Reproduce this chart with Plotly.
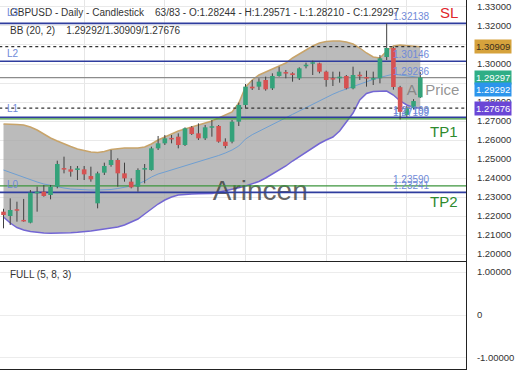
import plotly.graph_objects as go

# ---------------- data ----------------
opens = [1.22228, 1.22000, 1.22351, 1.21789, 1.21649, 1.23193, 1.23281, 1.23105, 1.23544, 1.24509,
         1.24456, 1.24421, 1.24456, 1.24105, 1.22667, 1.24281, 1.24684, 1.24947, 1.24246, 1.23807,
         1.23544, 1.24456, 1.24421, 1.25561, 1.25825, 1.26088, 1.26175, 1.25737, 1.26667, 1.26351,
         1.26088, 1.26667, 1.26737, 1.25912, 1.25912, 1.26965, 1.27842, 1.28807, 1.28807, 1.29158,
         1.28719, 1.29368, 1.29561, 1.29509, 1.29246, 1.29895, 1.30035, 1.30035, 1.29596, 1.29246,
         1.29246, 1.29368, 1.28719, 1.29421, 1.29298, 1.29193, 1.29246, 1.30368, 1.30840, 1.28780,
         1.27320, 1.27700, 1.28244]
highs = [1.22380, 1.22930, 1.22754, 1.22900, 1.23368, 1.23544, 1.23632, 1.23632, 1.24912, 1.25123,
         1.24632, 1.24632, 1.24632, 1.24596, 1.24333, 1.24807, 1.25474, 1.25035, 1.24807, 1.23982,
         1.24509, 1.24737, 1.25649, 1.26211, 1.26263, 1.26263, 1.26351, 1.26667, 1.26737, 1.26877,
         1.26789, 1.27053, 1.26789, 1.26088, 1.27053, 1.27965, 1.28947, 1.29158, 1.29246, 1.29333,
         1.29509, 1.29860, 1.29684, 1.29561, 1.29825, 1.30070, 1.30175, 1.30070, 1.29649, 1.29596,
         1.29596, 1.29421, 1.29860, 1.29596, 1.29649, 1.29596, 1.30474, 1.32138, 1.30910, 1.28850,
         1.27800, 1.28150, 1.29571]
lows = [1.21351, 1.21526, 1.21702, 1.21700, 1.21614, 1.22228, 1.23018, 1.22877, 1.23456, 1.24246,
        1.24070, 1.23895, 1.23895, 1.23807, 1.22404, 1.24158, 1.24596, 1.23544, 1.23807, 1.23456,
        1.23281, 1.23719, 1.24386, 1.25474, 1.25737, 1.25825, 1.25561, 1.25684, 1.26263, 1.26000,
        1.26000, 1.26175, 1.25860, 1.25561, 1.25825, 1.26737, 1.27667, 1.28632, 1.28632, 1.28596,
        1.28632, 1.29333, 1.29246, 1.29070, 1.29158, 1.29772, 1.29421, 1.29509, 1.28807, 1.28842,
        1.29018, 1.28667, 1.28667, 1.29158, 1.28807, 1.28895, 1.28982, 1.30210, 1.28650, 1.27080,
        1.27220, 1.27600, 1.28210]
closes = [1.22053, 1.22316, 1.22281, 1.21719, 1.23228, 1.23281, 1.23053, 1.23544, 1.24737, 1.24456,
          1.24333, 1.24509, 1.24193, 1.23930, 1.24246, 1.24632, 1.24947, 1.24246, 1.23982, 1.23509,
          1.24421, 1.24509, 1.25561, 1.25825, 1.26088, 1.26053, 1.25737, 1.26614, 1.26316, 1.26088,
          1.26667, 1.26702, 1.25912, 1.25684, 1.26965, 1.27842, 1.28807, 1.28719, 1.29070, 1.28667,
          1.29368, 1.29596, 1.29509, 1.29421, 1.29772, 1.29947, 1.30070, 1.29596, 1.29158, 1.29193,
          1.29333, 1.28719, 1.29421, 1.29368, 1.29246, 1.29246, 1.30298, 1.30842, 1.28790, 1.27480,
          1.27680, 1.28050, 1.29297]

bb_upper = [1.26842, 1.26842, 1.26816, 1.26789, 1.26684, 1.26526, 1.26316, 1.26105, 1.25947, 1.25789,
            1.25658, 1.25526, 1.25447, 1.25368, 1.25342, 1.25395, 1.25500, 1.25553, 1.25579, 1.25579,
            1.25579, 1.25632, 1.25789, 1.26000, 1.26158, 1.26316, 1.26474, 1.26579, 1.26684, 1.26789,
            1.26895, 1.27000, 1.27158, 1.27316, 1.27474, 1.27947, 1.28789, 1.29158, 1.29421, 1.29579,
            1.29737, 1.29895, 1.30053, 1.30316, 1.30526, 1.30737, 1.30947, 1.31105, 1.31184, 1.31211,
            1.31211, 1.31158, 1.31053, 1.30842, 1.30579, 1.30368, 1.30316, 1.30684, 1.30947, 1.31000,
            1.30974, 1.30921, 1.30909]
bb_mid = [1.24421, 1.24289, 1.24158, 1.24026, 1.23895, 1.23789, 1.23684, 1.23605, 1.23526, 1.23474,
          1.23421, 1.23395, 1.23368, 1.23368, 1.23368, 1.23368, 1.23395, 1.23447, 1.23500, 1.23579,
          1.23684, 1.23842, 1.24053, 1.24211, 1.24316, 1.24421, 1.24526, 1.24632, 1.24737, 1.24842,
          1.24947, 1.25053, 1.25184, 1.25316, 1.25474, 1.25684, 1.26050, 1.26280, 1.26450, 1.26620,
          1.26810, 1.27000, 1.27170, 1.27350, 1.27530, 1.27730, 1.27910, 1.28090, 1.28260, 1.28410,
          1.28560, 1.28690, 1.28820, 1.28970, 1.29090, 1.29190, 1.29290, 1.29380, 1.29470, 1.29420,
          1.29370, 1.29320, 1.29292]
bb_lower = [1.21947, 1.21632, 1.21395, 1.21263, 1.21184, 1.21132, 1.21105, 1.21089, 1.21089, 1.21105,
            1.21121, 1.21142, 1.21168, 1.21211, 1.21263, 1.21316, 1.21353, 1.21421, 1.21526, 1.21684,
            1.21842, 1.22105, 1.22368, 1.22632, 1.22842, 1.23000, 1.23105, 1.23142, 1.23158, 1.23168,
            1.23179, 1.23189, 1.23247, 1.23316, 1.23395, 1.23484, 1.23579, 1.23684, 1.23816, 1.24000,
            1.24211, 1.24421, 1.24632, 1.24895, 1.25132, 1.25368, 1.25605, 1.25816, 1.26000, 1.26158,
            1.26474, 1.26947, 1.27421, 1.28105, 1.28447, 1.28553, 1.28579, 1.28579, 1.28368, 1.28053,
            1.27842, 1.27711, 1.27676]

levels_blue = [1.32138, 1.30146, 1.27199, 1.23241]
levels_green = [1.27109, 1.23590]
levels_gray = [1.29286]
levels_dashed = [1.30909, 1.27676]
level_labels = [1.32138, 1.30146, 1.29286, 1.27199, 1.27109, 1.23590, 1.23241]

price_ticks = [1.20, 1.21, 1.22, 1.23, 1.24, 1.25, 1.26, 1.27, 1.28, 1.29, 1.30, 1.31, 1.32, 1.33]
hidden_ticks = [1.29, 1.31]          # covered by the price tags in the reference
osc_ticks = [1, 0, -1]
osc_ticktext = ["1.00000", "0", "-1.00000"]

title_line1 = ("GBPUSD - Daily - Candlestick\u00a0\u00a0\u00a0\u00a063/83 - O:1.28244 - H:1.29571"
               " - L:1.28210 - C:1.29297")
title_line2 = "BB (20, 2)\u00a0\u00a0\u00a0\u00a01.29292/1.30909/1.27676"
osc_title = "FULL (5, 8, 3)"

# price tags on the axis: (value, background, text colour, pixel shift)
axis_tags = [(1.30909, "#d6a23c", "#3a3020", 0),
             (1.29297, "#2fae86", "#ffffff", 0),
             (1.29292, "#2c95ec", "#ffffff", -12),
             (1.27676, "#6a46d6", "#ffffff", 0)]

# ---------------- layout constants ----------------
X0, X1 = -0.52, 68.8
Y0, Y1 = 1.19632, 1.33368
W, H = 520, 390
ML, MR, MT, MB = 0, 54, 0, 21
PW, PH = W - ML - MR, H - MT - MB
split = (PH - 261) / PH
FONT = "Liberation Sans, Arial, sans-serif"
GREEN = "#34a27a"
RED = "#d65252"

n = len(closes)
idx = list(range(n))

fig = go.Figure()

# Bollinger bands
fig.add_trace(go.Scatter(x=idx, y=bb_upper, mode="lines",
                         line=dict(color="#c8a46a", width=1.5), hoverinfo="skip"))
fig.add_trace(go.Scatter(x=idx, y=bb_lower, mode="lines", fill="tonexty",
                         fillcolor="rgba(168,168,168,0.78)",
                         line=dict(color="#7366d4", width=1.5), hoverinfo="skip"))
fig.add_trace(go.Scatter(x=idx, y=bb_mid, mode="lines",
                         line=dict(color="#6f9fd2", width=1), hoverinfo="skip"))

# watermark behind the candles
fig.add_trace(go.Scatter(x=[63.9], y=[1.28579], mode="text", text=["AI Price"],
                         textfont=dict(family=FONT, size=15, color="rgba(120,120,120,0.8)"),
                         hoverinfo="skip"))
fig.add_trace(go.Scatter(x=[38.2], y=[1.23200], mode="text", text=["Arincen"],
                         textfont=dict(family=FONT, size=28, color="rgba(60,60,60,0.8)"),
                         hoverinfo="skip"))

# level lines
def hline(vals, color, width, dash="solid"):
    for v in vals:
        fig.add_trace(go.Scatter(x=[X0 - 1, X1 + 1], y=[v, v], mode="lines",
                                 line=dict(color=color, width=width, dash=dash),
                                 hoverinfo="skip"))

hline(levels_gray, "#8c8c8c", 1.2)
hline(levels_green, "#3d953d", 1.2)
hline(levels_blue, "#2f3d9e", 1.6)
hline(levels_dashed, "#333333", 1.3, "3px,3px")

# candles: wicks
wx, wy = [], []
for i in idx:
    wx += [i, i, None]
    wy += [lows[i], highs[i], None]
fig.add_trace(go.Scatter(x=wx, y=wy, mode="lines", line=dict(color="#404040", width=1),
                         hoverinfo="skip"))

# candles: bodies
MINB = 0.0008
for col, up in ((GREEN, True), (RED, False)):
    bx, by = [], []
    for i in idx:
        if (closes[i] >= opens[i]) == up:
            lo, hi = min(opens[i], closes[i]), max(opens[i], closes[i])
            if hi - lo < MINB:
                m = (hi + lo) / 2
                lo, hi = m - MINB / 2, m + MINB / 2
            bx += [i, i, None]
            by += [lo, hi, None]
    fig.add_trace(go.Scatter(x=bx, y=by, mode="lines", line=dict(color=col, width=4.6),
                             hoverinfo="skip"))

# empty oscillator panel
fig.add_trace(go.Scatter(x=[], y=[], xaxis="x2", yaxis="y2", mode="lines"))

# ---------------- annotations ----------------
ann = []
def px_x(px):
    return px / PW
def px_y(py):
    return 1 - py / PH

ann.append(dict(xref="paper", yref="paper", x=px_x(8), y=px_y(13), text=title_line1,
                showarrow=False, xanchor="left", yanchor="middle",
                font=dict(family=FONT, size=10, color="#333333")))
ann.append(dict(xref="paper", yref="paper", x=px_x(8), y=px_y(30), text=title_line2,
                showarrow=False, xanchor="left", yanchor="middle",
                font=dict(family=FONT, size=10, color="#333333")))
ann.append(dict(xref="paper", yref="paper", x=px_x(8), y=px_y(274), text=osc_title,
                showarrow=False, xanchor="left", yanchor="middle",
                font=dict(family=FONT, size=10, color="#333333")))

for txt, py in (("L3", 13), ("L2", 53), ("L1", 109), ("L0", 184.5)):
    ann.append(dict(xref="paper", yref="paper", x=px_x(5), y=px_y(py), text=txt,
                    showarrow=False, xanchor="left", yanchor="middle",
                    font=dict(family=FONT, size=10, color="#6f8ad8")))

for v in level_labels:
    ann.append(dict(xref="paper", yref="y", x=px_x(391), y=v, text=f"{v:.5f}",
                    showarrow=False, xanchor="left", yanchor="bottom", yshift=-1,
                    font=dict(family=FONT, size=10, color="#6f8ad8")))

ann.append(dict(xref="paper", yref="paper", x=px_x(460), y=px_y(12.5), text="SL",
                showarrow=False, xanchor="right", yanchor="middle",
                font=dict(family=FONT, size=15, color="#e0262b")))
ann.append(dict(xref="paper", yref="paper", x=px_x(460), y=px_y(132), text="TP1",
                showarrow=False, xanchor="right", yanchor="middle",
                font=dict(family=FONT, size=15, color="#2d8a2d")))
ann.append(dict(xref="paper", yref="paper", x=px_x(460), y=px_y(201), text="TP2",
                showarrow=False, xanchor="right", yanchor="middle",
                font=dict(family=FONT, size=15, color="#2d8a2d")))

for v, bg, fc, sh in axis_tags:
    ann.append(dict(xref="paper", yref="y", x=px_x(474), y=v, text=f"{v:.5f}",
                    showarrow=False, xanchor="left", yanchor="middle", yshift=sh,
                    bgcolor=bg, borderpad=1,
                    font=dict(family=FONT, size=9.5, color=fc)))

tick_text = ["" if any(abs(t - h) < 1e-9 for h in hidden_ticks) else f"{t:.5f}"
             for t in price_ticks]

fig.update_layout(
    width=W, height=H, margin=dict(l=ML, r=MR, t=MT, b=MB),
    paper_bgcolor="white", plot_bgcolor="white", showlegend=False,
    hovermode=False, annotations=ann,
    xaxis=dict(domain=[0, 1], range=[X0, X1], anchor="y", showticklabels=False,
               tickvals=[12, 24, 36, 48, 60], showgrid=True, gridcolor="#e6e6e6",
               zeroline=False, showline=True, linecolor="#222222", linewidth=1),
    yaxis=dict(domain=[split, 1], range=[Y0, Y1], side="right", anchor="x",
               tickvals=price_ticks, ticktext=tick_text,
               tickfont=dict(family=FONT, size=9.5, color="#333333"),
               ticklabelstandoff=8, showgrid=True, gridcolor="#e9e9e9",
               zeroline=False, showline=True, linecolor="#222222", linewidth=1),
    xaxis2=dict(domain=[0, 1], range=[X0, X1], anchor="y2", showticklabels=False,
                showgrid=False, zeroline=False, showline=True, linecolor="#222222",
                linewidth=1),
    yaxis2=dict(domain=[0, split], range=[-1.256, 1.256], side="right", anchor="x2",
                tickvals=osc_ticks, ticktext=osc_ticktext,
                tickfont=dict(family=FONT, size=9.5, color="#333333"),
                ticklabelstandoff=8, showgrid=True, gridcolor="#ececec",
                zeroline=False, showline=True, linecolor="#222222", linewidth=1),
)

fig.write_html("out.html", config={"displayModeBar": False},
               post_script="document.body.style.margin='0px';document.body.style.padding='0px';")
